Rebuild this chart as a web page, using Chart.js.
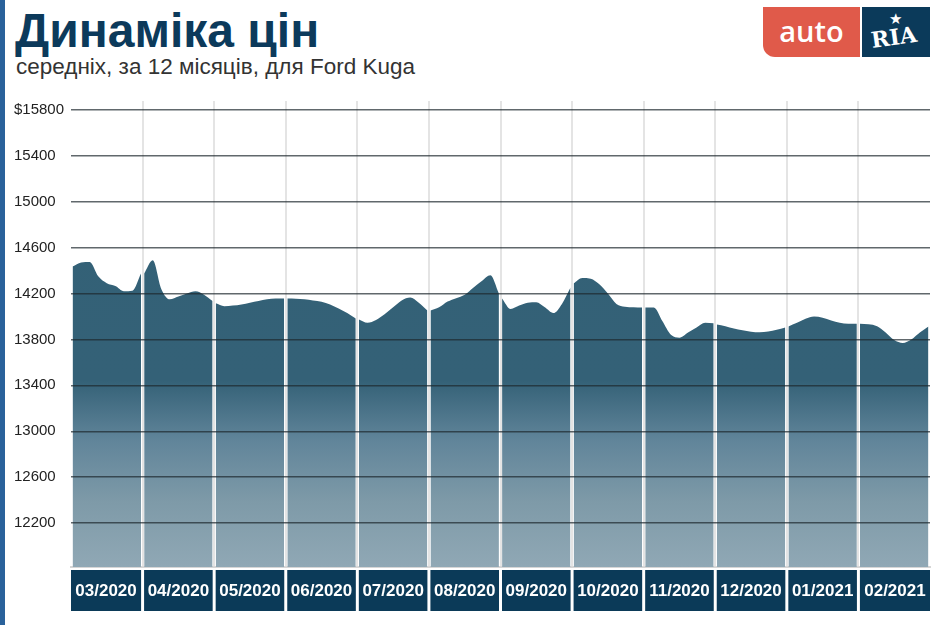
<!DOCTYPE html>
<html>
<head>
<meta charset="utf-8">
<script src="https://cdn.jsdelivr.net/npm/chart.js@4.4.1/dist/chart.umd.min.js"></script>
<style>
    body { margin: 0; width: 940px; height: 625px; background: #fff; position: relative; overflow: hidden; font-family: "Liberation Sans", Arial, sans-serif; }
    #side { position: absolute; left: 0; top: 0; width: 5px; height: 625px; background: #2a629b; }
    h1 { position: absolute; left: 15px; top: 3px; margin: 0; font-size: 48px; line-height: normal; font-weight: bold; color: #0c3a5b; }
    .sub { position: absolute; left: 16px; top: 54px; font-size: 22.5px; line-height: normal; color: #333; }
    .auto { position: absolute; left: 763px; top: 7px; width: 97px; height: 50px; background: #e05a4a; border-bottom-left-radius: 12px; color: #fff; font: 600 29px "Open Sans", sans-serif; text-align: center; line-height: 48px; }
    .ria { position: absolute; left: 862px; top: 7px; width: 68px; height: 50px; background: #0b3a5a; color: #fff; }
    .ria span { position: absolute; left: 9px; top: 17px; font: bold 22px "DejaVu Serif", serif; transform: rotate(-8deg); }
    .ria i { position: absolute; left: 27px; top: 3px; font-style: normal; font-size: 15px; }
    #wrap { position: absolute; left: 14px; top: 84px; width: 918px; height: 529px; }
</style>
</head>
<body>
<div id="side"></div>
<h1>Динаміка цін</h1>
<div class="sub">середніх, за 12 місяців, для Ford Kuga</div>
<div class="auto">auto</div>
<div class="ria"><i>★</i><span>RIA</span></div>
<div id="wrap"><canvas id="chart"></canvas></div>
<script>
// середні ціни, по 9 замірів на місяць
const monthLabels = ['03/2020', '04/2020', '05/2020', '06/2020', '07/2020', '08/2020', '09/2020', '10/2020', '11/2020', '12/2020', '01/2021', '02/2021'];
const mar20 = [14435, 14470, 14475, 14350, 14290, 14265, 14220, 14225, 14375];
const apr20 = [14374, 14490, 14240, 14150, 14175, 14200, 14220, 14190, 14135];
const may20 = [14115, 14090, 14095, 14105, 14120, 14135, 14150, 14157, 14157];
const jun20 = [14157, 14155, 14150, 14140, 14128, 14105, 14070, 14030, 13983];
const jul20 = [13974, 13945, 13970, 14020, 14080, 14140, 14165, 14120, 14052];
const aug20 = [14052, 14080, 14130, 14160, 14190, 14250, 14310, 14360, 14200];
const sep20 = [14157, 14065, 14095, 14120, 14125, 14080, 14030, 14110, 14252];
const oct20 = [14287, 14335, 14330, 14280, 14200, 14110, 14085, 14080, 14078];
const nov20 = [14078, 14078, 13960, 13840, 13815, 13860, 13905, 13945, 13942];
const dec20 = [13930, 13915, 13895, 13880, 13868, 13863, 13870, 13885, 13905];
const jan21 = [13913, 13945, 13980, 14000, 13990, 13965, 13945, 13937, 13937];
const feb21 = [13937, 13932, 13915, 13860, 13795, 13770, 13800, 13860, 13913];
const monthValues = [mar20, apr20, may20, jun20, jul20, aug20, sep20, oct20, nov20, dec20, jan21, feb21];
const yTicks = [12200, 12600, 13000, 13400, 13800, 14200, 14600, 15000, 15400, 15800];

function areaFill(ctx) {
    const a = ctx.chart.chartArea;
    if (!a) return '#336176';
    const g = ctx.chart.ctx.createLinearGradient(0, a.top, 0, a.bottom);
    g.addColorStop(0, '#336176');
    g.addColorStop(0.6, '#346177');
    g.addColorStop(0.73, '#61859a');
    g.addColorStop(0.86, '#7e9aa8');
    g.addColorStop(1, '#90a8b5');
    return g;
}

const datasets = monthValues.map((vals, i) => ({
    data: vals.map((v, j) => ({ x: i + 0.022 + j * 0.956 / (vals.length - 1), y: v })),
    fill: 'start',
    backgroundColor: areaFill,
    borderWidth: 0,
    pointRadius: 0,
    cubicInterpolationMode: 'monotone'
}));

const monthBoxes = {
    id: 'monthBoxes',
    afterDraw(chart) {
        const { ctx, chartArea, scales: { x } } = chart;
        ctx.save();
        monthLabels.forEach((m, i) => {
            const l = x.getPixelForValue(i) + (i ? 1.5 : 0);
            const r = x.getPixelForValue(i + 1) - (i < monthLabels.length - 1 ? 1.5 : 0);
            ctx.fillStyle = '#0b3a58';
            ctx.fillRect(l, chartArea.bottom + 3, r - l, 41);
            ctx.fillStyle = '#fff';
            ctx.font = 'bold 17px "Liberation Sans", Arial, sans-serif';
            ctx.textAlign = 'center';
            ctx.textBaseline = 'middle';
            ctx.fillText(m, (l + r) / 2, chartArea.bottom + 24);
        });
        ctx.restore();
    }
};

new Chart(document.getElementById('chart'), {
    type: 'line',
    data: { datasets },
    plugins: [monthBoxes],
    options: {
        responsive: true,
        maintainAspectRatio: false,
        animation: false,
        layout: { padding: { left: 0, right: 2, top: 8, bottom: 0 } },
        plugins: { legend: { display: false }, tooltip: { enabled: false } },
        scales: {
            x: {
                type: 'linear', min: 0, max: 12,
                afterBuildTicks: axis => { axis.ticks = monthLabels.concat(['']).map((_, i) => ({ value: i })); },
                afterFit: axis => { axis.height = 46; },
                ticks: { display: false },
                grid: {
                    color: c => (c.index === 0 || c.index === 12) ? 'rgba(0,0,0,0)' : '#e4e4e4',
                    lineWidth: 2,
                    drawTicks: false
                },
                border: { display: true, color: '#d6d6d6', width: 2 }
            },
            y: {
                min: 11817, max: 15878,
                afterBuildTicks: axis => { axis.ticks = yTicks.map(v => ({ value: v })); },
                afterFit: axis => { axis.width = 57; },
                ticks: {
                    crossAlign: 'far',
                    padding: 8,
                    color: '#222',
                    font: { family: '"Liberation Sans", Arial, sans-serif', size: 15 },
                    callback: v => v === 15800 ? '$' + v : String(v)
                },
                grid: { color: 'rgba(30,40,45,0.7)', lineWidth: 1.5, drawTicks: false, z: 1 },
                border: { display: false }
            }
        }
    }
});
</script>
</body>
</html>
